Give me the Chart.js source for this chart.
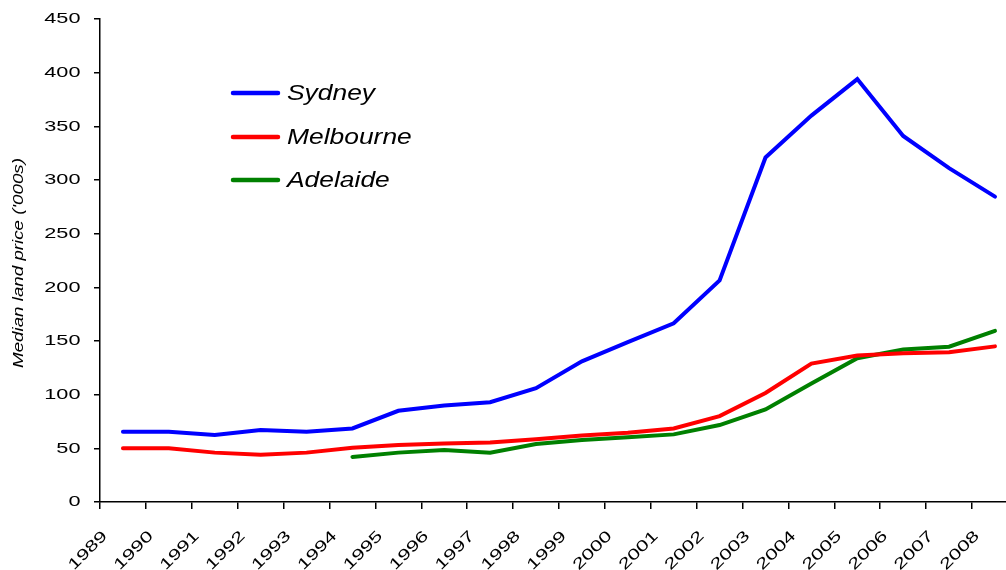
<!DOCTYPE html>
<html>
<head>
<meta charset="utf-8">
<script src="https://cdn.jsdelivr.net/npm/chart.js@4.4.1/dist/chart.umd.min.js"></script>
<style>
  html, body { margin: 0; padding: 0; background: #fff; }
  #wrap { width: 1006px; height: 570px; position: relative; }
</style>
</head>
<body>
<div id="wrap"><canvas id="chart"></canvas></div>
<script>
// Year labels sit on the boundary ticks; each value is plotted mid-way between two ticks.
const years = ['1989', '1990', '1991', '1992', '1993', '1994', '1995', '1996', '1997', '1998',
               '1999', '2000', '2001', '2002', '2003', '2004', '2005', '2006', '2007', '2008'];

// Median land price, $'000s
const sydney    = [65.5, 65.5, 62.5, 67, 65.5, 68.5, 85, 90, 93, 106,
                   131, 149, 166.5, 206.5, 321, 360, 394, 341, 311, 284.5];
const melbourne = [50, 50, 46, 44, 46, 50.5, 53, 54.5, 55.5, 58.5,
                   62, 64.5, 68.5, 80, 101.5, 129, 136.5, 138.5, 139.5, 145];
const adelaide  = [null, null, null, null, null, 42, 46, 48.5, 46, 54,
                   57.8, 60.3, 63, 71.7, 86.3, 110.5, 134, 142, 144.7, 159.5];

const yTicks = [0, 50, 100, 150, 200, 250, 300, 350, 400, 450];
const seriesNames = ['Sydney', 'Melbourne', 'Adelaide'];
const seriesColors = ['#0000ff', '#ff0000', '#008000'];
const yTitle = "Median land price ('000s)";

const FONT = '"Liberation Sans", Arial, Helvetica, sans-serif';
const TICK_STRETCH = 1.4;     // wide-set axis lettering
const LEGEND_STRETCH = 1.2;
const TITLE_STRETCH = 1.25;

function toPoints(values) {
  return values.map((v, i) => ({ x: i + 0.5, y: v }));
}

const seriesValues = [sydney, melbourne, adelaide];
const datasets = seriesNames.map((name, k) => ({
  label: name,
  data: toPoints(seriesValues[k]),
  borderColor: seriesColors[k],
  backgroundColor: seriesColors[k],
  borderWidth: 4,
  pointRadius: 0,
  pointHoverRadius: 0,
  tension: 0,
  fill: false,
  spanGaps: false,
  borderJoinStyle: 'miter',
  borderCapStyle: 'round'
}));

// Draw text horizontally stretched about its anchor point.
function stretchedText(ctx, text, x, y, sx) {
  ctx.save();
  ctx.translate(x, y);
  ctx.scale(sx, 1);
  ctx.fillText(text, 0, 0);
  ctx.restore();
}

const decorations = {
  id: 'decorations',
  beforeDraw(chart) {
    // axis tick labels are rendered by the scales; widen them while the scales draw
    const ctx = chart.ctx;
    const plainFill = CanvasRenderingContext2D.prototype.fillText;
    ctx.fillText = function (text, x, y) {
      this.save();
      this.translate(x, y);
      this.scale(TICK_STRETCH, 1);
      plainFill.call(this, text, 0, 0);
      this.restore();
    };
  },
  afterDatasetsDraw(chart) {
    delete chart.ctx.fillText;
  },
  afterDraw(chart) {
    const ctx = chart.ctx;
    delete ctx.fillText;
    ctx.save();
    // legend inside the plot
    const lx0 = 233, lx1 = 278, tx = 287;
    const rows = [93, 137, 180];
    ctx.font = 'italic 22px ' + FONT;
    ctx.textAlign = 'left';
    ctx.textBaseline = 'middle';
    chart.data.datasets.forEach((ds, i) => {
      ctx.strokeStyle = ds.borderColor;
      ctx.lineWidth = 4.5;
      ctx.lineCap = 'round';
      ctx.beginPath();
      ctx.moveTo(lx0, rows[i]);
      ctx.lineTo(lx1, rows[i]);
      ctx.stroke();
      ctx.fillStyle = '#000';
      stretchedText(ctx, ds.label, tx, rows[i] + 0.5, LEGEND_STRETCH);
    });
    // vertical axis title
    ctx.font = 'italic 15px ' + FONT;
    ctx.translate(18.5, 263);
    ctx.rotate(-Math.PI / 2);
    ctx.textAlign = 'center';
    ctx.textBaseline = 'middle';
    ctx.fillStyle = '#000';
    stretchedText(ctx, yTitle, 0, 0, TITLE_STRETCH);
    ctx.restore();
  }
};

new Chart(document.getElementById('chart'), {
  type: 'line',
  data: { datasets },
  options: {
    responsive: true,
    maintainAspectRatio: false,
    animation: false,
    devicePixelRatio: 1,
    layout: { padding: { top: 19, right: 0, bottom: 0, left: 0 } },
    plugins: {
      legend: { display: false },
      tooltip: { enabled: false }
    },
    events: [],
    scales: {
      x: {
        type: 'linear',
        min: 0,
        max: 19.74,
        afterBuildTicks(scale) {
          scale.ticks = years.map((_, i) => ({ value: i }));
        },
        afterFit(scale) { scale.height = 68; },
        grid: {
          display: true,
          drawOnChartArea: false,
          drawTicks: true,
          tickLength: 7,
          color: '#000',
          lineWidth: 1.5
        },
        border: { display: true, color: '#000', width: 1.5 },
        ticks: {
          autoSkip: false,
          maxRotation: 45,
          minRotation: 45,
          padding: 18,
          labelOffset: 5,
          color: '#000',
          font: { family: FONT, size: 15.5 },
          callback: (v) => years[v]
        }
      },
      y: {
        type: 'linear',
        min: 0,
        max: 450,
        afterBuildTicks(scale) {
          scale.ticks = yTicks.map(v => ({ value: v }));
        },
        afterFit(scale) { scale.width = 100; },
        grid: {
          display: true,
          drawOnChartArea: false,
          drawTicks: true,
          tickLength: 6,
          color: '#000',
          lineWidth: 1.5
        },
        border: { display: true, color: '#000', width: 1.5 },
        ticks: {
          padding: 13.5,
          color: '#000',
          font: { family: FONT, size: 15.5, lineHeight: 0.6 }
        }
      }
    }
  },
  plugins: [decorations]
});
</script>
</body>
</html>
